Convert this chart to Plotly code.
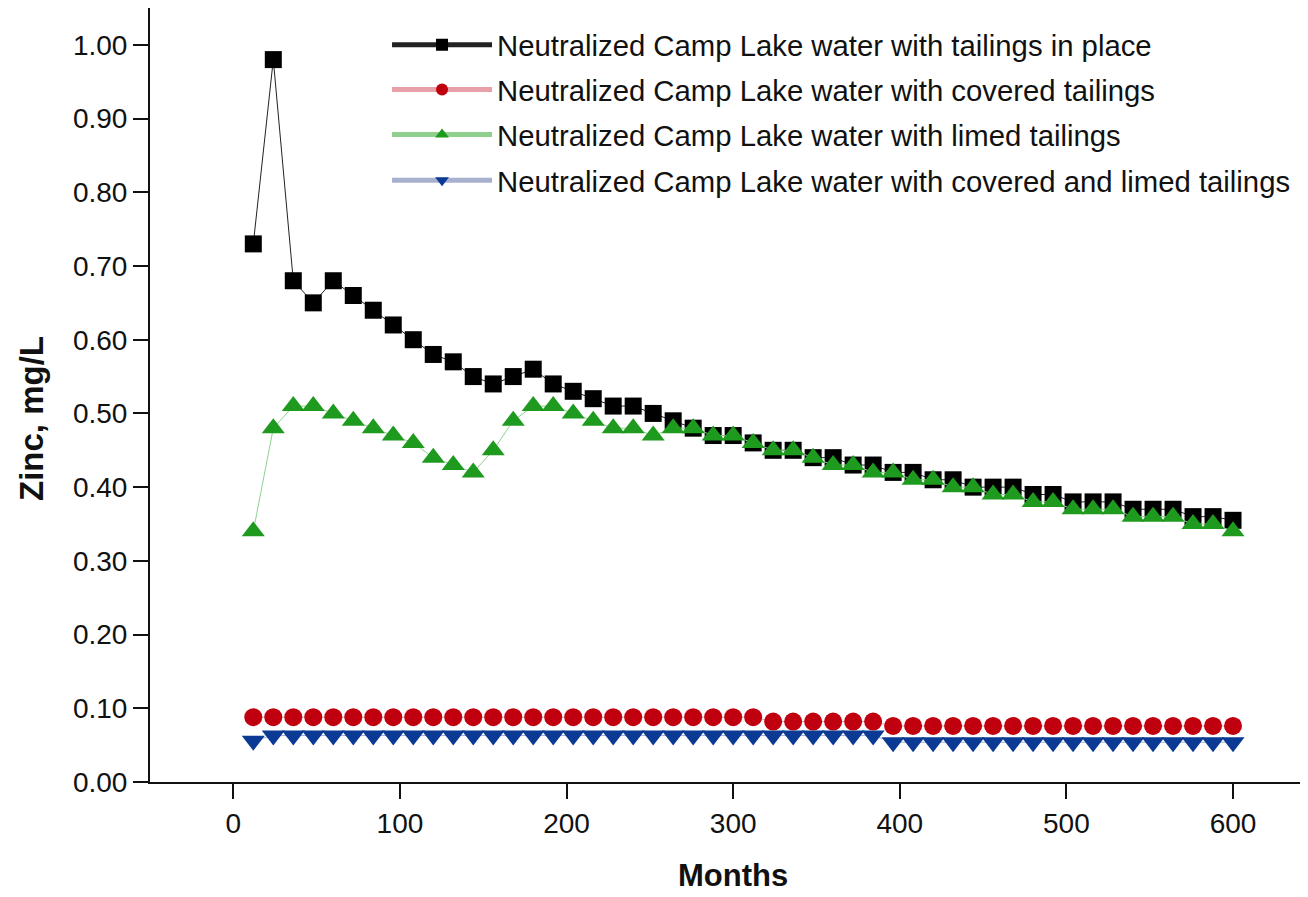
import plotly.graph_objects as go

months = list(range(12, 601, 12))

tailings_in_place = [0.73, 0.98, 0.68, 0.65, 0.68, 0.66, 0.64, 0.62, 0.60, 0.58,
                     0.57, 0.55, 0.54, 0.55, 0.56, 0.54, 0.53, 0.52, 0.51, 0.51,
                     0.50, 0.49, 0.48, 0.47, 0.47, 0.46, 0.45, 0.45, 0.44, 0.44,
                     0.43, 0.43, 0.42, 0.42, 0.41, 0.41, 0.40, 0.40, 0.40, 0.39,
                     0.39, 0.38, 0.38, 0.38, 0.37, 0.37, 0.37, 0.36, 0.36, 0.355]

covered = [0.088] * 26 + [0.082] * 6 + [0.076] * 18

limed = [0.34, 0.48, 0.51, 0.51, 0.50, 0.49, 0.48, 0.47, 0.46, 0.44,
         0.43, 0.42, 0.45, 0.49, 0.51, 0.51, 0.50, 0.49, 0.48, 0.48,
         0.47, 0.48, 0.48, 0.47, 0.47, 0.46, 0.45, 0.45, 0.44, 0.43,
         0.43, 0.42, 0.42, 0.41, 0.41, 0.40, 0.40, 0.39, 0.39, 0.38,
         0.38, 0.37, 0.37, 0.37, 0.36, 0.36, 0.36, 0.35, 0.35, 0.34]

covered_limed = [0.056] + [0.063] * 31 + [0.054] * 18

names = [
    "Neutralized Camp Lake water with tailings in place",
    "Neutralized Camp Lake water with covered tailings",
    "Neutralized Camp Lake water with limed tailings",
    "Neutralized Camp Lake water with covered and limed tailings",
]

fig = go.Figure()
fig.add_trace(go.Scatter(x=months, y=tailings_in_place, name=names[0], mode="lines+markers",
                         legend="legend",
                         line=dict(color="#222222", width=1),
                         marker=dict(symbol="square", size=17, color="#000000")))
fig.add_trace(go.Scatter(x=months, y=covered, name=names[1], mode="lines+markers",
                         legend="legend2",
                         line=dict(color="#e8a0a8", width=1),
                         marker=dict(symbol="circle", size=18, color="#c0000e")))
fig.add_trace(go.Scatter(x=months, y=limed, name=names[2], mode="lines+markers",
                         legend="legend3",
                         line=dict(color="#8fd08f", width=1),
                         marker=dict(symbol="triangle-up", size=20, color="#1e9a1e")))
fig.add_trace(go.Scatter(x=months, y=covered_limed, name=names[3], mode="lines+markers",
                         legend="legend4",
                         line=dict(color="#a8b0d0", width=1),
                         marker=dict(symbol="triangle-down", size=20, color="#0a3a94")))

font_family = "Liberation Sans, Arial, sans-serif"

legend_rows = [0.952, 0.894, 0.836, 0.777]
legend_common = dict(x=0.2047, xanchor="left", yanchor="middle",
                     bgcolor="rgba(0,0,0,0)", font=dict(size=29.3),
                     itemsizing="constant", itemwidth=100)

fig.update_layout(
    width=1308, height=897,
    margin=dict(l=142, r=8, t=0, b=123),
    paper_bgcolor="white", plot_bgcolor="white",
    font=dict(family=font_family, size=28, color="#111111"),
    showlegend=True,
    legend=dict(y=legend_rows[0], **legend_common),
    legend2=dict(y=legend_rows[1], **legend_common),
    legend3=dict(y=legend_rows[2], **legend_common),
    legend4=dict(y=legend_rows[3], **legend_common),
    xaxis=dict(range=[-50, 645], tickvals=[0, 100, 200, 300, 400, 500, 600],
               showgrid=False, zeroline=False, showline=True, linecolor="#111111",
               linewidth=2, ticks="outside", ticklen=15, tickwidth=2, tickcolor="#111111",
               tickfont=dict(size=28)),
    yaxis=dict(range=[0, 1.05], tickvals=[i / 10 for i in range(11)], tickformat=".2f",
               showgrid=False, zeroline=False, showline=True, linecolor="#111111",
               linewidth=2, ticks="outside", ticklen=15, tickwidth=2, tickcolor="#111111",
               tickfont=dict(size=28)),
    annotations=[
        dict(text="<b>Months</b>", xref="paper", yref="paper", x=0.5035, y=-0.1202,
             xanchor="center", yanchor="middle", showarrow=False,
             font=dict(size=31, color="#111111")),
        dict(text="<b>Zinc, mg/L</b>", xref="paper", yref="paper", x=-0.1019, y=0.4703,
             xanchor="center", yanchor="middle", textangle=-90, showarrow=False,
             font=dict(size=33, color="#111111")),
    ],
)

fig.write_html("out.html")
